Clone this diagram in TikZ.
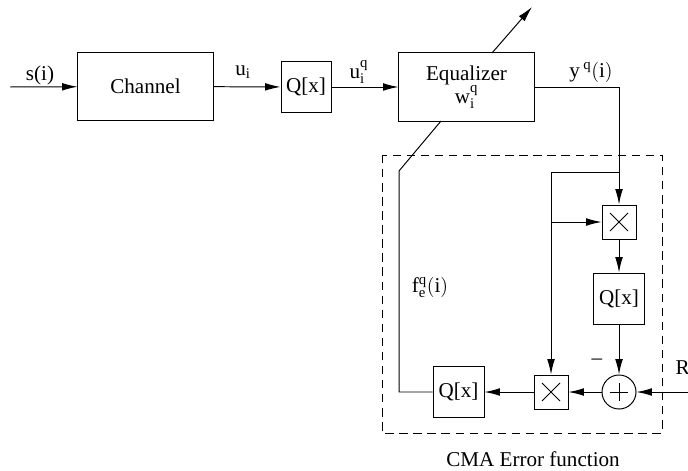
\documentclass[tikz,border=0pt]{standalone}
\usepackage{fontspec}
\setmainfont{LiberationSerif}[Extension=.ttf, UprightFont=*-Regular, BoldFont=*-Bold,
	ItalicFont=*-Italic, BoldItalicFont=*-BoldItalic]
\usetikzlibrary{arrows.meta}

\begin{document}
\begin{tikzpicture}[x=0.025cm,y=-0.025cm,
	font=\fontsize{15}{18}\selectfont,
	every path/.style={line width=0.7pt},
	>={Latex[length=11pt,width=5.5pt]},
	block/.style={draw, inner sep=0pt},
	mult/.style={draw, minimum size=0.85cm, inner sep=0pt,
		path picture={\draw (path picture bounding box.south west) ++(0.2cm,0.2cm) -- ++(0.45cm,0.45cm);
			\draw (path picture bounding box.north west) ++(0.2cm,-0.2cm) -- ++(0.45cm,-0.45cm);}},
	adder/.style={draw, circle, minimum size=0.85cm, inner sep=0pt,
		path picture={\draw (path picture bounding box.center) ++(-0.22cm,0) -- ++(0.44cm,0);
			\draw (path picture bounding box.center) ++(0,-0.22cm) -- ++(0,0.44cm);}}]
	\useasboundingbox (0,0) rectangle (688,471);

	% forward path
	\node[block, minimum width=3.375cm, minimum height=1.675cm] (chan) at (145.5,86.5) {Channel};
	\node[block, minimum size=1.25cm] (q1) at (306,87) {Q[x]};
	\node[block, minimum width=3.375cm, minimum height=1.7cm, align=center] (eq) at (466.5,87)
		{Equalizer\\[-2pt] $\mathrm{w}_{\mathrm{i}}^{\mathrm{q}}$};

	% CMA error function blocks
	\node[mult] (mx1) at (619,222) {};
	\node[block, minimum size=1.275cm] (q2) at (619,298.5) {Q[x]};
	\node[adder] (add) at (619,392) {};
	\node[mult] (mx2) at (551,392) {};
	\node[block, minimum size=1.275cm] (q3) at (458.5,392) {Q[x]};
	\draw[dash pattern=on 6pt off 4pt] (382,155) rectangle (662,433);

	\coordinate (in) at (10,87);
	\coordinate (out) at (619,87);
	\coordinate (tap) at (619,172);
	\coordinate (tapl) at (551,172);
	\coordinate (rin) at (690,392);
	\coordinate (fb1) at (399,392);
	\coordinate (fb2) at (399,171);
	\coordinate (fb3) at (441,121);
	\coordinate (ad1) at (492,53);
	\coordinate (ad2) at (532,7);

	\draw[->] (in) -- (chan);
	\draw[->] (chan) -- (q1);
	\draw[->] (q1) -- (eq);
	\draw[->] (eq.east) -- (out) -- (mx1);
	\draw[->] (tap) -- (tapl) -- (mx2);
	\draw[->] (tapl |- mx1) -- (mx1);
	\draw[->] (mx1) -- (q2);
	\draw[->] (q2) -- (add);
	\draw[->] (rin) -- (add);
	\draw[->] (add) -- (mx2);
	\draw[->] (mx2) -- (q3);
	\draw (q3) -- (fb1) -- (fb2) -- (fb3);
	\draw[->] (ad1) -- (ad2);

	% signal labels
	\node (lsi) at (40,75) {s(i)};
	\node (lu) at (243,72) {$\mathrm{u}_{\mathrm{i}}$};
	\node (luq) at (359,72) {$\mathrm{u}_{\mathrm{i}}^{\mathrm{q}}$};
	\node (ly) at (591,72) {$\mathrm{y}\,^{\mathrm{q}}\mathrm{(i)}$};
	\node (lf) at (430,287) {$\mathrm{f}_{\mathrm{e}}^{\mathrm{q}}\mathrm{(i)}$};
	\node (lminus) at (597,362) {--};
	\node[anchor=west, inner sep=0pt] (lr) at (675,367) {$\mathrm{R}^{\mathrm{q}}$};
	\node (lcma) at (533,459) {CMA Error function};
\end{tikzpicture}
\end{document}
